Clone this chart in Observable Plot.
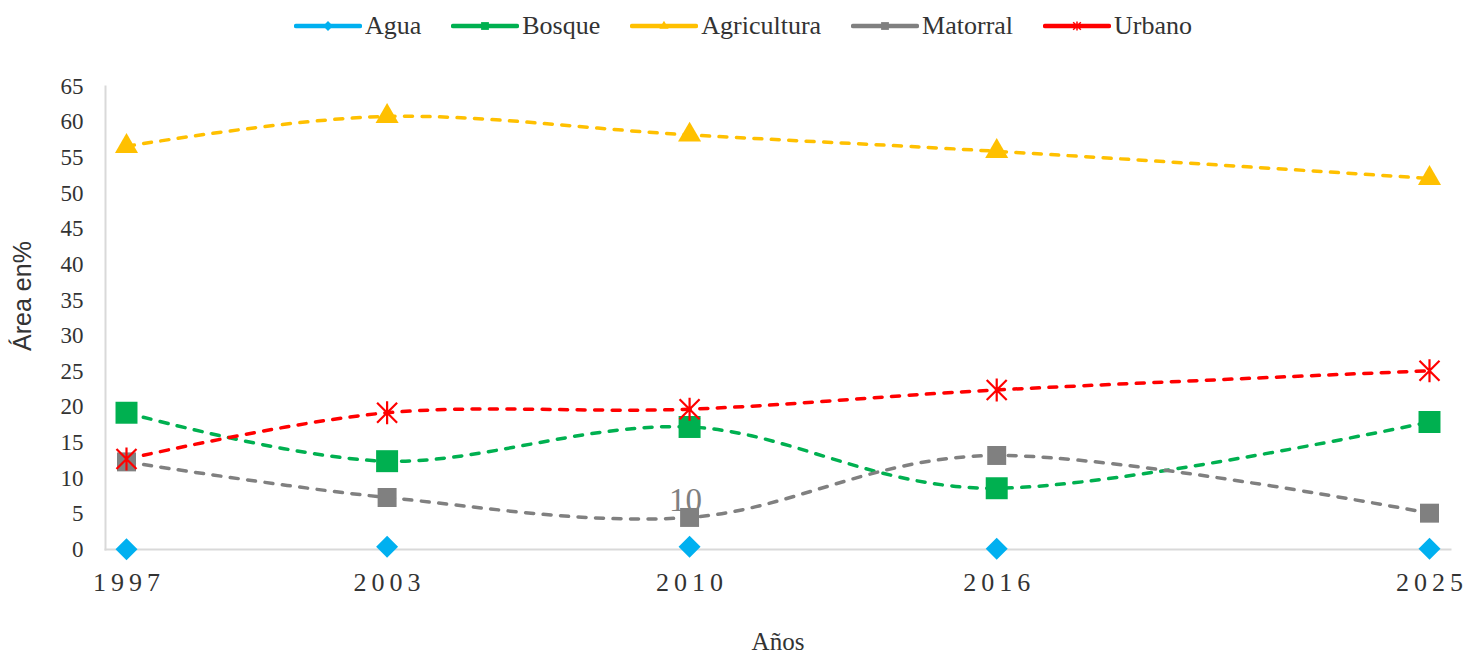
<!DOCTYPE html>
<html>
<head>
<meta charset="utf-8">
<script src="https://cdn.jsdelivr.net/npm/d3@7"></script>
<script src="https://cdn.jsdelivr.net/npm/@observablehq/plot@0.6"></script>
<style>
  html, body { margin: 0; padding: 0; background: #fff; }
  #legend { height: 52px; display: flex; justify-content: center; align-items: center; gap: 30px; padding-left: 6px; box-sizing: border-box; }
  .item { display: flex; align-items: center; font-family: "Liberation Serif", serif; font-size: 26px; color: #333; }
  .item svg { margin-right: 3px; }
  #chart { margin-top: 3px; }
  g[aria-label="x-axis tick label"] text { letter-spacing: 5px; }
</style>
</head>
<body>
<div id="legend"></div>
<div id="chart"></div>
<script>
// ---- data ----
const years = ["1997", "2003", "2010", "2016", "2025"];      // tick labels
const dates = [1997, 2002.6, 2009.1, 2015.7, 2025];           // observation dates (as placed on the axis)
const series = ["Agua", "Bosque", "Agricultura", "Matorral", "Urbano"];
const agua        = [0.05, 0.4, 0.4, 0.1, 0.1];
const bosque      = [19.2, 12.4, 17.2, 8.6, 17.9];
const agricultura = [56.6, 60.8, 58.2, 55.9, 52.1];
const matorral    = [12.3, 7.3, 4.5, 13.2, 5.1];
const urbano      = [12.7, 19.2, 19.7, 22.4, 25.1];
const dataLabels  = [{series: "Matorral", year: "2010", text: "10"}];

// ---- styles ----
const colors = ["#00B0F0", "#00B050", "#FFC000", "#808080", "#FF0000"];
const asterisk = {
  draw(ctx, size) {
    const r = Math.sqrt(size / Math.PI), d = r * 0.87;
    ctx.moveTo(0, -r); ctx.lineTo(0, r);
    ctx.moveTo(-d, -d); ctx.lineTo(d, d);
    ctx.moveTo(-d, d); ctx.lineTo(d, -d);
  }
};
const markerStyle = {
  Agua:        {symbol: "diamond2", r: 9.9, line: false},
  Bosque:      {symbol: "square",   r: 12.4, line: true},
  Agricultura: {symbol: "triangle2", r: 11, line: true},
  Matorral:    {symbol: "square",   r: 10.7, line: true},
  Urbano:      {symbol: asterisk,   r: 11.5, line: true, stroked: true}
};

const values = [agua, bosque, agricultura, matorral, urbano];
const rows = series.flatMap((s, si) => dates.map((d, i) => ({series: s, date: d, year: years[i], value: values[si][i]})));
const colorOf = s => colors[series.indexOf(s)];

// ---- legend ----
const legend = document.getElementById("legend");
const symMap = {diamond2: d3.symbolDiamond2, square: d3.symbolSquare, triangle2: d3.symbolTriangle2};
series.forEach((s, i) => {
  const st = markerStyle[s];
  const item = document.createElement("div");
  item.className = "item";
  const sw = d3.create("svg").attr("width", 68).attr("height", 20);
  sw.append("line").attr("x1", 2).attr("x2", 66).attr("y1", 10).attr("y2", 10)
    .attr("stroke", colors[i]).attr("stroke-width", 4.5).attr("stroke-linecap", "round");
  const sym = typeof st.symbol === "string" ? symMap[st.symbol] : st.symbol;
  const small = 4.4;
  const p = d3.symbol(sym, Math.PI * small * small)();
  const path = sw.append("path").attr("d", p).attr("transform", "translate(34,10)");
  if (st.stroked) path.attr("fill", "none").attr("stroke", colors[i]).attr("stroke-width", 1.5);
  else path.attr("fill", colors[i]);
  item.appendChild(sw.node());
  const label = document.createElement("span");
  label.textContent = s;
  item.appendChild(label);
  legend.appendChild(item);
});

// ---- chart ----
const lineMarks = series.filter(s => markerStyle[s].line).map(s =>
  Plot.line(rows.filter(d => d.series === s), {
    x: "date", y: "value", stroke: colorOf(s), strokeWidth: 3.5,
    strokeDasharray: "8,9.5", strokeLinecap: "round", curve: "cardinal"
  }));
const dotMarks = series.map(s => {
  const st = markerStyle[s];
  return Plot.dot(rows.filter(d => d.series === s), {
    x: "date", y: "value", symbol: () => st.symbol, r: st.r,
    fill: st.stroked ? "none" : colorOf(s),
    stroke: st.stroked ? colorOf(s) : "none",
    strokeWidth: st.stroked ? 2.2 : 0
  });
});
const labelRows = dataLabels.map(l => ({...rows.find(d => d.series === l.series && d.year === l.year), text: l.text}));

const chart = Plot.plot({
  width: 1480, height: 600,
  marginTop: 31, marginBottom: 106, marginLeft: 105, marginRight: 30,
  x: {type: "linear", domain: [1997, 2025], inset: 21},
  y: {domain: [0, 65]},
  symbol: {type: "identity"},
  style: {fontFamily: "'Liberation Serif', serif", color: "#333", background: "white", overflow: "visible"},
  marks: [
    Plot.frame({anchor: "left", stroke: "#d9d9d9", strokeWidth: 2}),
    Plot.frame({anchor: "bottom", stroke: "#d9d9d9", strokeWidth: 2}),
    Plot.axisY({ticks: d3.range(0, 66, 5), tickSize: 0, tickPadding: 22, fontSize: 23, label: null}),
    Plot.axisX({ticks: dates, tickFormat: d => years[dates.indexOf(d)], tickSize: 0, tickPadding: 23, fontSize: 26, dx: 2.5, label: null}),
    Plot.text(["Años"], {frameAnchor: "bottom", dy: 100, fontSize: 25, fill: "#333"}),
    Plot.text(["Área en%"], {frameAnchor: "left", textAnchor: "middle", rotate: -90, dx: -83, dy: -22, fontSize: 25, fill: "#333", fontFamily: "'Liberation Sans', sans-serif"}),
    ...lineMarks,
    Plot.text(labelRows, {x: "date", y: "value", text: "text", dx: -4, dy: -6, lineAnchor: "bottom", fontSize: 33, fill: "#808080"}),
    ...dotMarks
  ]
});
document.getElementById("chart").appendChild(chart);
</script>
</body>
</html>
